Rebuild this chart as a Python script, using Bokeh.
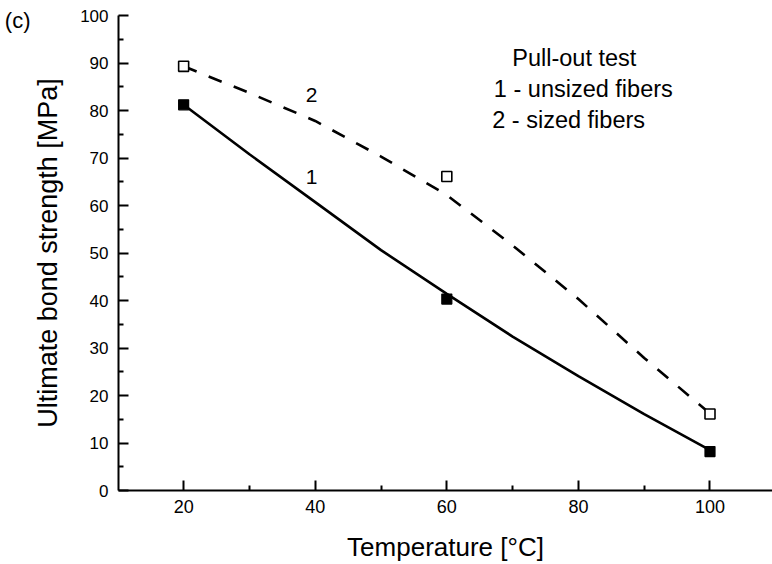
from bokeh.plotting import figure
from bokeh.models import Range1d, FixedTicker, LinearAxis
from bokeh.core.properties import value
from bokeh.embed import file_html
from bokeh.resources import INLINE

# measured points
temperature = [20, 60, 100]
unsized = [81.2, 40.3, 8.2]
sized = [89.3, 66.1, 16.1]

# fitted curves
fit_x = [20, 30, 40, 50, 60, 70, 80, 90, 100]
fit_unsized = [81.2, 70.8, 60.7, 50.6, 41.4, 32.4, 24.1, 16.1, 8.5]
fit_sized = [89.3, 83.7, 77.8, 70.3, 62.2, 51.6, 40.3, 27.9, 16.2]

x_ticks = [20, 40, 60, 80, 100]
x_minor = [30, 50, 70, 90]
y_ticks = [0, 10, 20, 30, 40, 50, 60, 70, 80, 90, 100]
y_minor = [5, 15, 25, 35, 45, 55, 65, 75, 85, 95]

legend_title = "Pull-out test"
legend_lines = ["1 - unsized fibers", "2 - sized fibers"]
panel_tag = "(c)"

FONT = "Liberation Sans"

p = figure(width=772, height=564, output_backend="svg", toolbar_location=None,
           x_range=Range1d(10.1, 109.5), y_range=Range1d(0, 100),
           min_border_left=118, min_border_right=0, min_border_top=15,
           min_border_bottom=74)
p.outline_line_color = None
p.grid.visible = False

p.line(fit_x, fit_unsized, line_color="black", line_width=2.6)
p.line(fit_x, fit_sized, line_color="black", line_width=2.6, line_dash="14 13")
p.scatter(temperature, unsized, marker="square", size=10, fill_color="black",
          line_color="black", line_width=1.2)
p.scatter(temperature, sized, marker="square", size=10, fill_color="white",
          line_color="black", line_width=1.6)

for ax in (p.xaxis[0], p.yaxis[0]):
    ax.axis_line_width = 2
    ax.axis_line_color = "black"
    ax.major_tick_line_width = 2
    ax.minor_tick_line_width = 2
    ax.major_tick_in = 10
    ax.major_tick_out = 0
    ax.minor_tick_in = 5
    ax.minor_tick_out = 0
    ax.major_label_text_font = FONT
    ax.major_label_text_color = "black"
    ax.axis_label_text_font = FONT
    ax.axis_label_text_font_style = "normal"
    ax.axis_label_text_color = "black"

p.xaxis.ticker = FixedTicker(ticks=x_ticks, minor_ticks=x_minor)
p.yaxis.ticker = FixedTicker(ticks=y_ticks, minor_ticks=y_minor)
p.xaxis.major_label_text_font_size = "18px"
p.yaxis.major_label_text_font_size = "17px"
p.xaxis.major_label_standoff = 9
p.yaxis.major_label_standoff = 10
p.xaxis.axis_label = "Temperature [°C]"
p.yaxis.axis_label = "Ultimate bond strength [MPa]"
p.xaxis.axis_label_text_font_size = "26px"
p.yaxis.axis_label_text_font_size = "27px"
p.xaxis.axis_label_standoff = 16
p.yaxis.axis_label_standoff = 14

# outer left axis used only to carry the panel tag "(c)"
tag_axis = LinearAxis(ticker=FixedTicker(ticks=[99]),
                      major_label_overrides={99: panel_tag},
                      axis_line_color=None, major_tick_line_color=None,
                      minor_tick_line_color=None, major_tick_in=0,
                      major_tick_out=0, minor_tick_in=0, minor_tick_out=0,
                      major_label_standoff=0, major_label_text_font=FONT,
                      major_label_text_font_size="22px",
                      major_label_text_color="black")
p.add_layout(tag_axis, "left")

# legend-like text block
p.text(x=[69.95], y=[91.15], text=[legend_title], text_font=value(FONT),
       text_font_size="23.5px", text_baseline="alphabetic", text_align="left",
       text_color="black")
p.text(x=[67.15, 66.9], y=[84.5, 78.0], text=legend_lines, text_font=value(FONT),
       text_font_size="23.5px", text_baseline="alphabetic", text_align="left",
       text_color="black")

# curve labels
p.text(x=[39.44, 39.44], y=[83.3, 65.9], text=["2", "1"], text_font=value(FONT),
       text_font_size="21px", text_baseline="alphabetic", text_align="center",
       text_color="black")

open("out.html", "w").write(file_html(p, INLINE))
